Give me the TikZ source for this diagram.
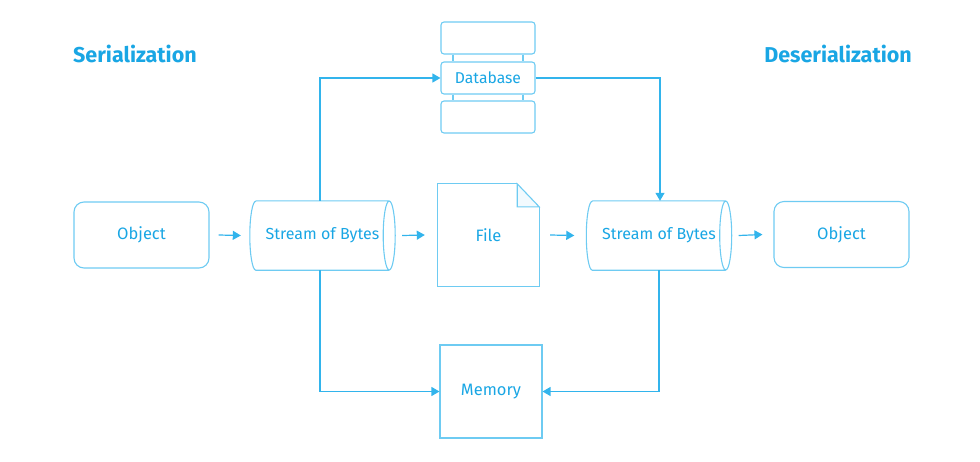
\documentclass[tikz,border=0pt]{standalone}
\usepackage{fontspec}
\setmainfont{Fira Sans}
\usetikzlibrary{arrows.meta}
\definecolor{txtblue}{RGB}{25,166,228}
\definecolor{lineblue}{RGB}{50,180,236}
\definecolor{boxblue}{RGB}{110,203,242}
\definecolor{foldfill}{RGB}{242,250,254}
\tikzset{
  boxline/.style={draw=boxblue, line width=1.1pt},
  rbox/.style={boxline, rounded corners=10pt, minimum width=135pt, minimum height=66pt, inner sep=0pt, text=txtblue, font=\fontsize{16.5}{19}\selectfont},
  dbbox/.style={boxline, rounded corners=3pt, minimum width=94pt, minimum height=32pt, inner sep=0pt, text=txtblue, font=\fontsize{15.7}{18}\selectfont},
  plainbox/.style={minimum width=#1, inner sep=0pt, text=txtblue, font=\fontsize{16.5}{19}\selectfont},
  cyltext/.style={font=\fontsize{16}{19}\selectfont},
  conn/.style={draw=lineblue, line width=1.2pt, -{Triangle[length=8pt,width=9pt]}},
  title/.style={text=txtblue, font=\fontsize{21.5}{25}\selectfont\bfseries, inner sep=0pt}
}
\newcommand\cylshape[1]{%
  \draw[boxline] ([xshift=6pt]#1.north west) -- ([xshift=-6pt]#1.north east)
    ([xshift=-6pt]#1.south east) -- ([xshift=6pt]#1.south west)
    arc[start angle=270, end angle=90, x radius=6pt, y radius=34.5pt]
    ([xshift=-6pt]#1.east) ellipse[x radius=6pt, y radius=34.5pt];}
\begin{document}
\begin{tikzpicture}[x=1pt,y=-1pt]
\useasboundingbox (0,0) rectangle (980,461);
% titles
\node[title, anchor=west] (t1) at (73,54) {Serialization};
\node[title, anchor=east] (t2) at (912,54) {Deserialization};
% objects
\node[rbox] (obj1) at (141.5,235) {Object};
\node[rbox] (obj2) at (841.5,234.5) {Object};
% cylinders
\node[plainbox=145pt, minimum height=69pt, cyltext] (cyl1) at (322.5,235.5) {Stream of Bytes};
\node[plainbox=145pt, minimum height=69pt, cyltext] (cyl2) at (659,235.5) {Stream of Bytes};
\cylshape{cyl1}
\cylshape{cyl2}
% file
\node[plainbox=101pt, minimum height=102pt] (file) at (488.5,235) {File};
\draw[boxline, fill=foldfill] ([xshift=-22pt]file.north east) -- ([xshift=-22pt,yshift=-23pt]file.north east) -- ([yshift=-23pt]file.north east) -- cycle;
\draw[boxline] ([xshift=-22pt]file.north east) -- (file.north west) -- (file.south west) -- (file.south east) -- ([yshift=-23pt]file.north east);
% database
\node[dbbox] (db1) at (488,38) {};
\node[dbbox] (db2) at (488,78) {Database};
\node[dbbox] (db3) at (488,117) {};
\draw[boxline] ([xshift=-35pt]db1.south) -- ([xshift=-35pt]db2.north)
               ([xshift=35pt]db1.south) -- ([xshift=35pt]db2.north)
               ([xshift=-35pt]db2.south) -- ([xshift=-35pt]db3.north)
               ([xshift=35pt]db2.south) -- ([xshift=35pt]db3.north);
% memory
\node[plainbox=102pt, minimum height=93pt, boxline] (mem) at (491,391.5) {Memory};
% short arrows
\draw[conn] ([xshift=9pt]obj1.east) -- ([xshift=-9pt]cyl1.west);
\draw[conn] ([xshift=7pt]cyl1.east) -- ([xshift=-13pt]file.west);
\draw[conn] ([xshift=11pt]file.east) -- ([xshift=-12pt]cyl2.west);
\draw[conn] ([xshift=7pt]cyl2.east) -- ([xshift=-11pt]obj2.west);
% routed connectors
\draw[conn] ([xshift=-2.5pt]cyl1.north) |- (db2.west);
\draw[conn] (db2.east) -| ([xshift=1pt]cyl2.north);
\draw[conn] ([xshift=-2.5pt]cyl1.south) |- (mem.west);
\draw[conn] (cyl2.south) |- (mem.east);
\end{tikzpicture}
\end{document}
